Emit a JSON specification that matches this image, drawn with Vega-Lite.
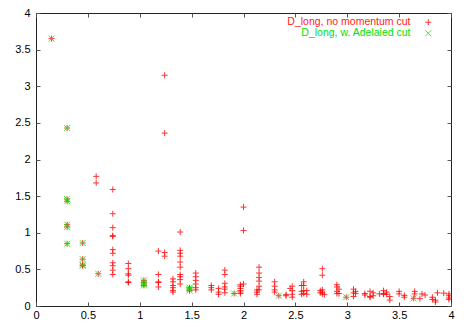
{
  "$schema": "https://vega.github.io/schema/vega-lite/v6.json",
  "width": 415,
  "height": 293,
  "autosize": {"type": "none"},
  "padding": {"left": 36, "top": 13, "right": 18, "bottom": 21},
  "background": "white",
  "config": {
    "view": {"stroke": "#222222", "strokeWidth": 1},
    "font": "Liberation Sans",
    "axis": {
      "grid": false,
      "domain": false,
      "tickSize": -4,
      "tickColor": "#555555",
      "labelFont": "Liberation Sans",
      "labelFontSize": 11,
      "labelColor": "#000000",
      "title": null
    }
  },
  "data": {"values": [
    {"s":"a","x":0.15,"y":3.65},{"s":"a","x":0.3,"y":2.43},{"s":"a","x":0.3,"y":1.46},{"s":"a","x":0.3,"y":1.43},{"s":"a","x":0.3,"y":1.11},{"s":"a","x":0.3,"y":1.08},{"s":"a","x":0.3,"y":0.85},
    {"s":"a","x":0.45,"y":0.86},{"s":"a","x":0.45,"y":0.64},{"s":"a","x":0.45,"y":0.56},{"s":"a","x":0.45,"y":0.55},{"s":"a","x":0.6,"y":0.44},
    {"s":"a","x":1.04,"y":0.35},{"s":"a","x":1.04,"y":0.32},{"s":"a","x":1.04,"y":0.3},{"s":"a","x":1.04,"y":0.28},
    {"s":"a","x":1.48,"y":0.25},{"s":"a","x":1.48,"y":0.23},{"s":"a","x":1.48,"y":0.21},
    {"s":"a","x":1.91,"y":0.17},{"s":"a","x":2.34,"y":0.14},{"s":"a","x":2.99,"y":0.12},{"s":"a","x":3.64,"y":0.105},
    {"s":"a","x":0.58,"y":1.77},{"s":"a","x":0.58,"y":1.68},
    {"s":"a","x":0.74,"y":1.59},{"s":"a","x":0.74,"y":1.26},{"s":"a","x":0.74,"y":1.07},{"s":"a","x":0.74,"y":0.96},{"s":"a","x":0.74,"y":0.95},{"s":"a","x":0.74,"y":0.77},{"s":"a","x":0.74,"y":0.72},{"s":"a","x":0.74,"y":0.59},{"s":"a","x":0.74,"y":0.55},{"s":"a","x":0.74,"y":0.49},{"s":"a","x":0.74,"y":0.43},
    {"s":"a","x":0.89,"y":0.58},{"s":"a","x":0.89,"y":0.51},{"s":"a","x":0.89,"y":0.44},{"s":"a","x":0.89,"y":0.42},{"s":"a","x":0.89,"y":0.33},{"s":"a","x":0.89,"y":0.32},
    {"s":"a","x":1.18,"y":0.75},{"s":"a","x":1.18,"y":0.43},{"s":"a","x":1.18,"y":0.33},{"s":"a","x":1.18,"y":0.32},{"s":"a","x":1.18,"y":0.26},
    {"s":"a","x":1.24,"y":3.15},{"s":"a","x":1.24,"y":2.36},{"s":"a","x":1.24,"y":0.73},{"s":"a","x":1.24,"y":0.68},
    {"s":"a","x":1.32,"y":0.37},{"s":"a","x":1.32,"y":0.33},{"s":"a","x":1.32,"y":0.28},{"s":"a","x":1.32,"y":0.25},{"s":"a","x":1.32,"y":0.21},{"s":"a","x":1.32,"y":0.19},
    {"s":"a","x":1.39,"y":1.01},{"s":"a","x":1.39,"y":0.76},{"s":"a","x":1.39,"y":0.72},{"s":"a","x":1.39,"y":0.68},{"s":"a","x":1.39,"y":0.6},{"s":"a","x":1.39,"y":0.53},{"s":"a","x":1.39,"y":0.43},{"s":"a","x":1.39,"y":0.4},{"s":"a","x":1.39,"y":0.36},{"s":"a","x":1.39,"y":0.3},
    {"s":"a","x":1.54,"y":0.45},{"s":"a","x":1.54,"y":0.4},{"s":"a","x":1.54,"y":0.35},{"s":"a","x":1.54,"y":0.3},{"s":"a","x":1.54,"y":0.25},{"s":"a","x":1.54,"y":0.22},
    {"s":"a","x":1.69,"y":0.28},{"s":"a","x":1.69,"y":0.25},{"s":"a","x":1.69,"y":0.22},
    {"s":"a","x":1.76,"y":0.24},{"s":"a","x":1.76,"y":0.19},{"s":"a","x":1.76,"y":0.16},
    {"s":"a","x":1.82,"y":0.49},{"s":"a","x":1.82,"y":0.43},{"s":"a","x":1.82,"y":0.31},{"s":"a","x":1.82,"y":0.26},{"s":"a","x":1.82,"y":0.23},{"s":"a","x":1.82,"y":0.18},
    {"s":"a","x":1.97,"y":0.29},{"s":"a","x":1.97,"y":0.27},{"s":"a","x":1.97,"y":0.24},{"s":"a","x":1.97,"y":0.21},{"s":"a","x":1.97,"y":0.19},{"s":"a","x":1.97,"y":0.17},
    {"s":"a","x":2.0,"y":1.35},{"s":"a","x":2.0,"y":1.03},{"s":"a","x":2.0,"y":0.3},
    {"s":"a","x":2.13,"y":0.22},{"s":"a","x":2.13,"y":0.19},{"s":"a","x":2.13,"y":0.16},
    {"s":"a","x":2.15,"y":0.53},{"s":"a","x":2.15,"y":0.45},{"s":"a","x":2.15,"y":0.39},{"s":"a","x":2.15,"y":0.34},{"s":"a","x":2.15,"y":0.27},{"s":"a","x":2.15,"y":0.22},
    {"s":"a","x":2.3,"y":0.33},{"s":"a","x":2.3,"y":0.27},{"s":"a","x":2.3,"y":0.22},{"s":"a","x":2.3,"y":0.19},
    {"s":"a","x":2.41,"y":0.155},{"s":"a","x":2.41,"y":0.14},{"s":"a","x":2.45,"y":0.24},
    {"s":"a","x":2.47,"y":0.27},{"s":"a","x":2.47,"y":0.21},{"s":"a","x":2.47,"y":0.16},{"s":"a","x":2.47,"y":0.12},
    {"s":"a","x":2.56,"y":0.28},{"s":"a","x":2.56,"y":0.2},{"s":"a","x":2.56,"y":0.16},
    {"s":"a","x":2.58,"y":0.33},{"s":"a","x":2.58,"y":0.28},{"s":"a","x":2.58,"y":0.21},{"s":"a","x":2.58,"y":0.17},
    {"s":"a","x":2.61,"y":0.21},{"s":"a","x":2.61,"y":0.16},
    {"s":"a","x":2.74,"y":0.21},{"s":"a","x":2.74,"y":0.18},
    {"s":"a","x":2.76,"y":0.51},{"s":"a","x":2.76,"y":0.42},{"s":"a","x":2.76,"y":0.22},{"s":"a","x":2.76,"y":0.19},{"s":"a","x":2.76,"y":0.165},{"s":"a","x":2.78,"y":0.155},
    {"s":"a","x":2.9,"y":0.29},{"s":"a","x":2.9,"y":0.26},{"s":"a","x":2.9,"y":0.2},{"s":"a","x":2.9,"y":0.17},
    {"s":"a","x":2.92,"y":0.23},{"s":"a","x":2.92,"y":0.17},
    {"s":"a","x":3.06,"y":0.23},{"s":"a","x":3.06,"y":0.18},{"s":"a","x":3.06,"y":0.13},
    {"s":"a","x":3.08,"y":0.2},{"s":"a","x":3.08,"y":0.17},
    {"s":"a","x":3.17,"y":0.17},{"s":"a","x":3.17,"y":0.15},
    {"s":"a","x":3.22,"y":0.2},{"s":"a","x":3.22,"y":0.13},{"s":"a","x":3.22,"y":0.12},
    {"s":"a","x":3.25,"y":0.18},{"s":"a","x":3.25,"y":0.14},{"s":"a","x":3.31,"y":0.165},
    {"s":"a","x":3.35,"y":0.21},{"s":"a","x":3.35,"y":0.17},{"s":"a","x":3.35,"y":0.16},
    {"s":"a","x":3.38,"y":0.19},{"s":"a","x":3.38,"y":0.16},
    {"s":"a","x":3.41,"y":0.13},{"s":"a","x":3.41,"y":0.08},
    {"s":"a","x":3.5,"y":0.2},{"s":"a","x":3.5,"y":0.165},
    {"s":"a","x":3.55,"y":0.145},{"s":"a","x":3.55,"y":0.12},
    {"s":"a","x":3.65,"y":0.2},{"s":"a","x":3.65,"y":0.165},
    {"s":"a","x":3.7,"y":0.1},{"s":"a","x":3.72,"y":0.165},{"s":"a","x":3.75,"y":0.15},
    {"s":"a","x":3.82,"y":0.12},{"s":"a","x":3.82,"y":0.09},
    {"s":"a","x":3.85,"y":0.08},{"s":"a","x":3.85,"y":0.055},
    {"s":"a","x":3.87,"y":0.18},{"s":"a","x":3.93,"y":0.175},
    {"s":"a","x":3.98,"y":0.165},{"s":"a","x":3.98,"y":0.14},{"s":"a","x":3.98,"y":0.11},{"s":"a","x":3.98,"y":0.09},
    {"s":"b","x":0.15,"y":3.65},{"s":"b","x":0.3,"y":2.43},{"s":"b","x":0.3,"y":1.46},{"s":"b","x":0.3,"y":1.43},{"s":"b","x":0.3,"y":1.11},{"s":"b","x":0.3,"y":1.08},{"s":"b","x":0.3,"y":0.85},
    {"s":"b","x":0.45,"y":0.86},{"s":"b","x":0.45,"y":0.64},{"s":"b","x":0.45,"y":0.56},{"s":"b","x":0.45,"y":0.55},{"s":"b","x":0.6,"y":0.44},
    {"s":"b","x":1.04,"y":0.35},{"s":"b","x":1.04,"y":0.32},{"s":"b","x":1.04,"y":0.3},{"s":"b","x":1.04,"y":0.28},
    {"s":"b","x":1.48,"y":0.25},{"s":"b","x":1.48,"y":0.23},{"s":"b","x":1.48,"y":0.21},
    {"s":"b","x":1.91,"y":0.17},{"s":"b","x":2.34,"y":0.14},{"s":"b","x":2.99,"y":0.12},{"s":"b","x":3.64,"y":0.105}
  ]},
  "layer": [
    {
      "mark": {"type": "point", "filled": false, "strokeWidth": 1, "opacity": 0.8},
      "encoding": {
        "x": {"field": "x", "type": "quantitative", "scale": {"domain": [0, 4], "nice": false, "zero": false},
              "axis": {"orient": "bottom", "values": [0,0.5,1,1.5,2,2.5,3,3.5,4], "format": "~g", "labelPadding": 7, "labelFlush": false}},
        "y": {"field": "y", "type": "quantitative", "scale": {"domain": [0, 4], "nice": false, "zero": false},
              "axis": {"orient": "left", "values": [0,0.5,1,1.5,2,2.5,3,3.5,4], "format": "~g", "labelPadding": 10, "labelFlush": false}},
        "color": {"field": "s", "type": "nominal",
                  "scale": {"domain": ["a", "b"], "range": ["#ff0000", "#00f000"]},
                  "legend": {
                    "orient": "none", "legendX": 387, "legendY": 4, "title": null,
                    "padding": 0, "rowPadding": -1, "labelAlign": "right", "labelOffset": -23,
                    "labelFont": "Liberation Sans", "labelFontSize": 10.5, "labelLimit": 0,
                    "labelColor": {"expr": "datum.value == 'a' ? '#ff2020' : '#00e000'"},
                    "labelExpr": "datum.value == 'a' ? 'D_long, no momentum cut' : 'D_long, w. Adelaied cut'",
                    "symbolStrokeWidth": 1, "symbolSize": 36, "symbolOpacity": 0.8
                  }},
        "shape": {"field": "s", "type": "nominal",
                  "scale": {"domain": ["a", "b"], "range": ["M-1,0L1,0M0,-1L0,1", "M-1,-1L1,1M-1,1L1,-1"]}},
        "order": {"field": "s", "type": "nominal", "sort": "ascending"},
        "size": {"value": 36}
      }
    },
    {
      "mark": {"type": "point", "opacity": 0},
      "encoding": {
        "x": {"field": "x", "type": "quantitative",
              "axis": {"orient": "top", "values": [0,0.5,1,1.5,2,2.5,3,3.5,4], "labels": false}},
        "y": {"field": "y", "type": "quantitative",
              "axis": {"orient": "right", "values": [0,0.5,1,1.5,2,2.5,3,3.5,4], "labels": false}}
      }
    }
  ],
  "resolve": {"axis": {"x": "independent", "y": "independent"}}
}
